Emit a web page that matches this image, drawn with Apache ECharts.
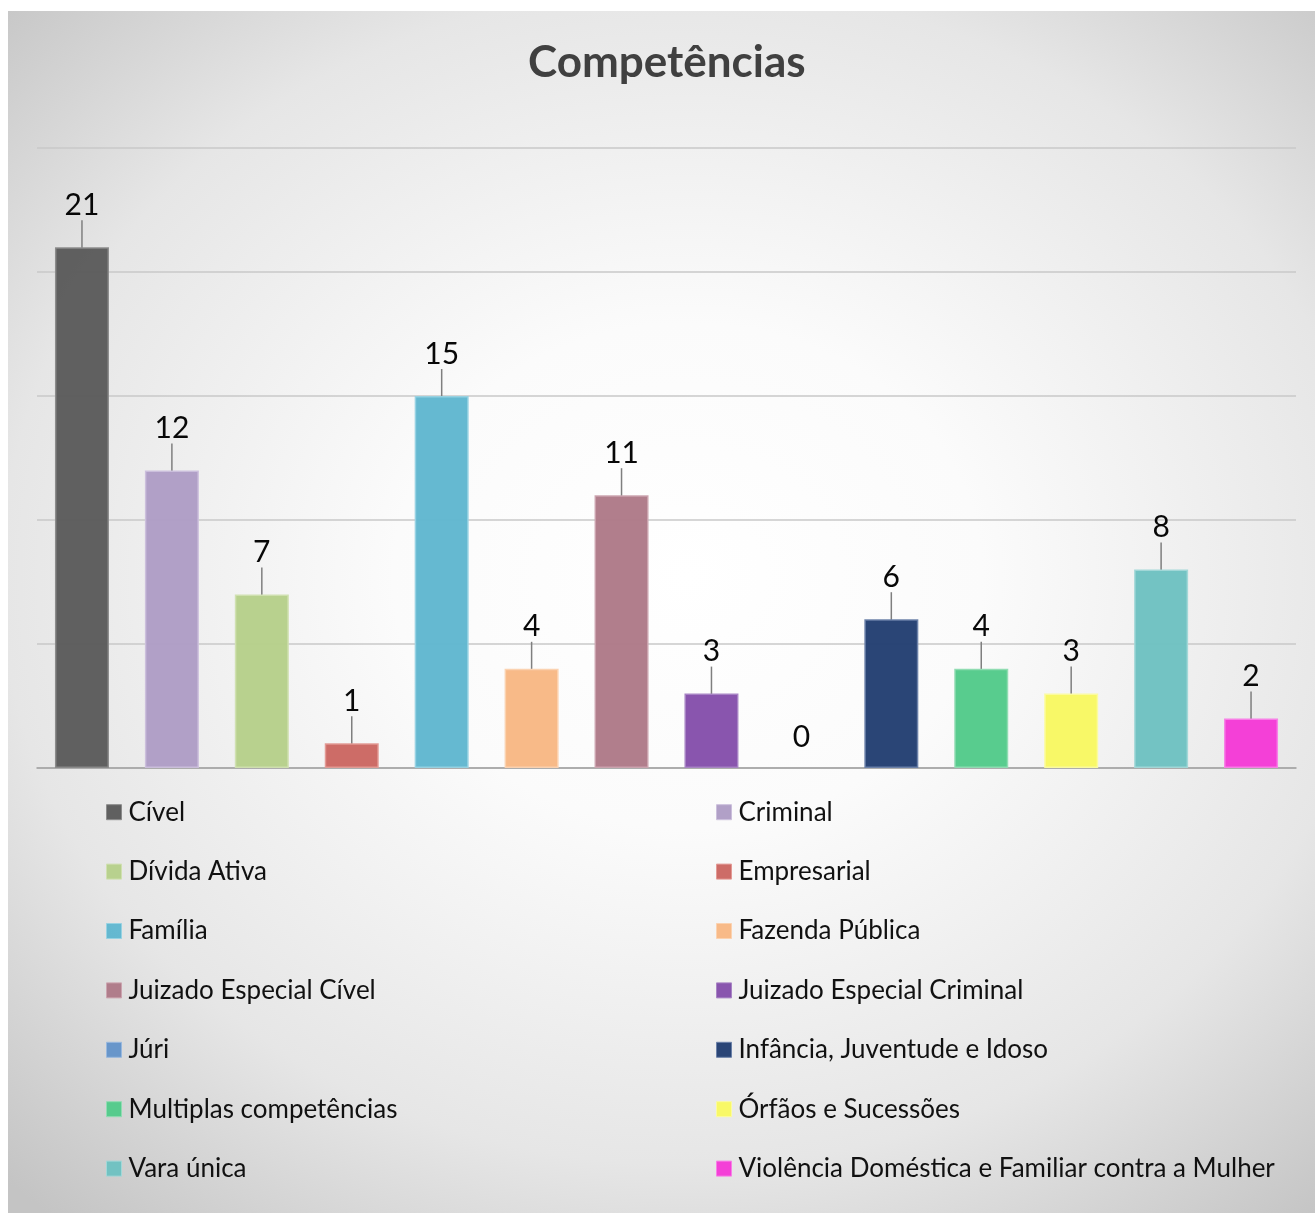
<!DOCTYPE html>
<html>
<head>
<meta charset="utf-8">
<script src="https://cdn.jsdelivr.net/npm/echarts@6/dist/echarts.min.js"></script>
<style>
  html, body { margin: 0; padding: 0; background: #ffffff; }
  #wrap { position: relative; width: 1315px; height: 1213px; overflow: hidden; }
  #bg { position: absolute; left: 8px; top: 11px; width: 1307px; height: 1202px;
        background: radial-gradient(ellipse 75% 70% at 52% 47%, #ffffff 0%, #fbfbfb 30%, #e6e6e6 70%, #c4c4c4 100%); }
  #chart { position: absolute; left: 0; top: 0; width: 1315px; height: 1213px; }
</style>
</head>
<body>
<div id="wrap"><div id="bg"></div><div id="chart"></div></div>
<script>
const categories = [
  'Cível', 'Criminal', 'Dívida Ativa', 'Empresarial', 'Família', 'Fazenda Pública',
  'Juizado Especial Cível', 'Juizado Especial Criminal', 'Júri', 'Infância, Juventude e Idoso',
  'Multiplas competências', 'Órfãos e Sucessões', 'Vara única', 'Violência Doméstica e Familiar contra a Mulher'
];
const values = [21, 12, 7, 1, 15, 4, 11, 3, 0, 6, 4, 3, 8, 2];
const colors = [
  '#5b5b5b', '#ae9dc5', '#b6cf8a', '#cb6762', '#60b7cf', '#f8b884',
  '#ae7a88', '#854fab', '#6494c9', '#233f72', '#53ca8a', '#f8f862', '#6ec1c1', '#f43ad6'
];
const borderColors = [
  '#8a8a8a', '#cbbfdc', '#cfe0b0', '#e39a95', '#97d2e2', '#fbd2b0',
  '#cba3ae', '#a783c4', '#98b8de', '#6a80a8', '#8fdcb2', '#fbfba0', '#a2d8d8', '#f87fe6'
];
const yTicks = { min: 0, max: 25, interval: 5 };

const chart = echarts.init(document.getElementById('chart'), null, { renderer: 'canvas' });

const series = categories.map((name, i) => ({
  name: name,
  type: 'bar',
  stack: 'all',
  barWidth: 54,
  itemStyle: { color: colors[i], borderColor: borderColors[i], borderWidth: values[i] === 0 ? 0 : 1.5, opacity: 0.97 },
  label: {
    show: true, position: 'top', distance: 4,
    fontFamily: 'Lato', fontSize: 30, color: '#000000'
  },
  labelLine: { show: values[i] !== 0, lineStyle: { color: '#7f7f7f', width: 1.5 } },
  labelLayout: { dy: values[i] === 0 ? -12 : -23 },
  data: categories.map((c, j) => (j === i ? values[i] : '-'))
}));

const legendCommon = {
  orient: 'vertical',
  padding: 0,
  itemWidth: 15, itemHeight: 15, itemGap: 29,
  icon: 'rect',
  textStyle: { fontFamily: 'Lato', fontSize: 26, color: '#111111', lineHeight: 30.4, padding: [0, 0, 0, 2] },
  itemStyle: { borderWidth: 1 },
  selectedMode: false,
  top: 797
};

chart.setOption({
  animation: false,
  backgroundColor: 'transparent',
  title: {
    text: 'Competências', left: 528, top: 41, padding: 0,
    textStyle: { fontFamily: 'Lato', fontWeight: 'bold', fontSize: 44, color: '#404040' }
  },
  legend: [
    Object.assign({}, legendCommon, { left: 106, data: categories.filter((c, i) => i % 2 === 0) }),
    Object.assign({}, legendCommon, { left: 716, data: categories.filter((c, i) => i % 2 === 1) })
  ],
  grid: { left: 37, right: 19, top: 148, bottom: 445, containLabel: false },
  xAxis: {
    type: 'category', data: categories,
    axisLine: { show: true, lineStyle: { color: '#a0a0a0', width: 1.5 } },
    axisTick: { show: false }, axisLabel: { show: false }
  },
  yAxis: {
    type: 'value', min: yTicks.min, max: yTicks.max, interval: yTicks.interval,
    axisLine: { show: false }, axisTick: { show: false }, axisLabel: { show: false },
    splitLine: { lineStyle: { color: '#c8c8c8', width: 1.5 } }
  },
  series: series
});
</script>
</body>
</html>
